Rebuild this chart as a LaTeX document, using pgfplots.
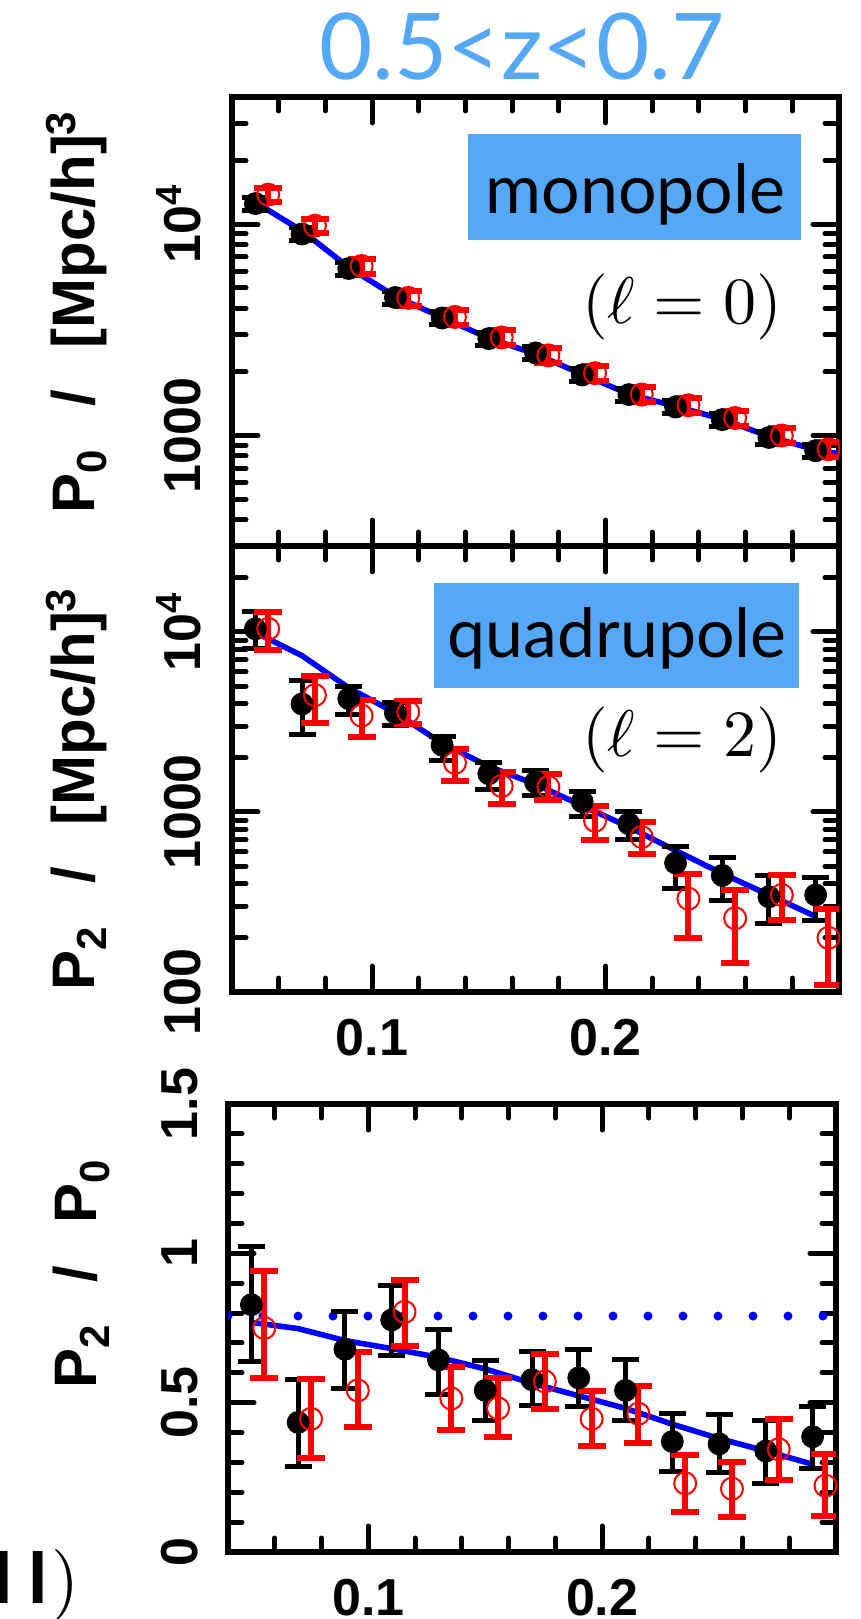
\documentclass[border=0pt]{standalone}
\usepackage{fontspec}
\usepackage{graphicx}
\usepackage{pgfplots}
\usepackage{pgfplotstable}
\pgfplotsset{compat=1.18}

\newfontfamily\axfont{Liberation Sans}
\newfontfamily\gill{Lato}
\definecolor{skyb}{RGB}{85,168,245}

\newcommand{\tickfnt}{\axfont\bfseries\fontsize{26}{26}\selectfont}
\newcommand{\labfnt}{\axfont\bfseries\fontsize{30}{30}\selectfont}

% monopole
\pgfplotstableread{
x y
0.05 12520
0.07 8990
0.09 6170
0.11 4500
0.13 3600
0.15 2875
0.17 2460
0.19 1933
0.21 1562
0.23 1364
0.25 1189
0.27 979
0.29 847
}\monoblk
\pgfplotstableread{
x y
0.0555 13800
0.0755 9840
0.0955 6340
0.1155 4480
0.1355 3640
0.1555 2910
0.1755 2395
0.1955 1972
0.2155 1563
0.2355 1390
0.2555 1211
0.2755 1000
0.2955 861
}\monored
\pgfplotstableread{
x y
0.05 12700
0.07 9300
0.09 6250
0.11 4550
0.13 3620
0.15 2890
0.17 2430
0.19 1950
0.21 1570
0.23 1375
0.25 1195
0.27 990
0.29 855
0.30 820
}\monomod

% quadrupole
\pgfplotstableread{
x y ep em
0.05 10400 2660 2330
0.07 3980 1370 1280
0.09 4260 740 790
0.11 3550 530 520
0.13 2350 290 430
0.15 1630 245 300
0.17 1460 250 220
0.19 1140 160 196
0.21 860 150 158
0.23 521 119 143
0.25 444 114 121
0.27 338 106 98
0.29 346 89 95
}\quadblk
\pgfplotstableread{
x y ep em
0.0555 10400 2500 2510
0.0755 4460 1230 1330
0.0955 3430 730 820
0.1155 3590 520 520
0.1355 1875 375 383
0.1555 1393 277 285
0.1755 1376 242 218
0.1955 894 190 192
0.2155 726 156 142
0.2355 330 125 130
0.2555 257 114 112
0.2755 346 98 95
0.2955 200 88 90
}\quadred
\pgfplotstableread{
x y
0.05 9930
0.07 7380
0.09 4890
0.11 3550
0.13 2410
0.15 1790
0.17 1425
0.19 1084
0.21 825
0.23 611
0.25 455
0.27 346
0.29 263
}\quadmod

% ratio P2/P0
\pgfplotstableread{
x y ep em
0.05 0.828 0.195 0.191
0.07 0.434 0.143 0.146
0.09 0.679 0.125 0.130
0.11 0.777 0.115 0.120
0.13 0.643 0.102 0.114
0.15 0.541 0.099 0.101
0.17 0.577 0.096 0.087
0.19 0.583 0.096 0.095
0.21 0.541 0.102 0.101
0.23 0.370 0.093 0.100
0.25 0.362 0.098 0.096
0.27 0.338 0.102 0.108
0.29 0.386 0.101 0.108
}\ratblk
\pgfplotstableread{
x y ep em
0.0555 0.750 0.192 0.167
0.0755 0.446 0.134 0.132
0.0955 0.541 0.129 0.123
0.1155 0.804 0.108 0.113
0.1355 0.514 0.105 0.107
0.1555 0.481 0.102 0.095
0.1755 0.571 0.093 0.093
0.1955 0.446 0.092 0.092
0.2155 0.463 0.094 0.098
0.2355 0.230 0.096 0.095
0.2555 0.212 0.090 0.095
0.2755 0.344 0.102 0.102
0.2955 0.222 0.106 0.103
}\ratred
\pgfplotstableread{
x y
0.05 0.769
0.07 0.748
0.09 0.708
0.11 0.681
0.13 0.652
0.15 0.613
0.17 0.565
0.19 0.523
0.21 0.481
0.23 0.428
0.25 0.380
0.27 0.338
0.29 0.294
}\ratmod

\pgfplotsset{
  panel/.style={
    scale only axis, anchor=north west,
    xmin=0.04, xmax=0.30,
    axis line style={line width=3pt},
    tick style={black, line width=2.5pt, line cap=round},
    major tick length=13pt, minor tick length=7pt,
    tick align=inside, tick pos=both,
    xticklabel pos=lower, yticklabel pos=left,
    xtick={0.1,0.2},
    minor xtick={0.06,0.08,0.12,0.14,0.16,0.18,0.22,0.24,0.26,0.28},
    tick label style={font=\tickfnt},
    xticklabel style={anchor=north, inner sep=0pt},
    yticklabel style={rotate=90, anchor=base, inner sep=0pt},
    yticklabel shift=16pt,
  },
  model/.style={blue, line width=2.8pt, no marks},
  blk/.style={black, only marks, mark=*, mark size=5.5pt,
    error bars/y dir=both,
    error bars/error bar style={line width=2.5pt},
    error bars/error mark options={rotate=90, mark size=6.75pt, line width=2.5pt}},
  rd/.style={red, only marks, mark=o, mark size=5.5pt,
    mark options={line width=1pt},
    error bars/y dir=both,
    error bars/error bar style={line width=3pt},
    error bars/error mark options={rotate=90, mark size=7pt, line width=3pt}},
}

\begin{document}
\begin{tikzpicture}
\useasboundingbox (0,0) rectangle (430.5pt,-809.5pt);

% monopole
\begin{axis}[panel, at={(116pt,-48.5pt)}, width=303.5pt, height=224.5pt,
  ymode=log, ymin=300, ymax=40000,
  ytick={1000,10000}, yticklabels={1000,10\textsuperscript{4}},
  minor ytick={300,400,500,600,700,800,900,2000,3000,4000,5000,6000,7000,8000,9000,20000,30000,40000},
  xticklabels={}]
\addplot[model] table[x=x,y=y] {\monomod};
\addplot[blk, error bars/y fixed relative=0.07] table[x=x,y=y] {\monoblk};
\addplot[rd, error bars/y fixed relative=0.08] table[x=x,y=y] {\monored};
\end{axis}

% quadrupole
\begin{axis}[panel, at={(116pt,-273pt)}, width=303.5pt, height=223pt,
  ymode=log, ymin=100, ymax=30000,
  ytick={100,1000,10000}, yticklabels={100,1000,10\textsuperscript{4}},
  minor ytick={200,300,400,500,600,700,800,900,2000,3000,4000,5000,6000,7000,8000,9000,20000,30000},
  xticklabels={0.1,0.2}, xticklabel shift=13.5pt]
\addplot[model] table[x=x,y=y] {\quadmod};
\addplot[blk, error bars/y explicit] table[x=x,y=y,y error plus=ep,y error minus=em] {\quadblk};
\addplot[rd, error bars/y explicit] table[x=x,y=y,y error plus=ep,y error minus=em] {\quadred};
\end{axis}

% ratio
\begin{axis}[panel, at={(114pt,-552pt)}, width=304pt, height=224pt,
  ymin=0, ymax=1.5,
  ytick={0,0.5,1,1.5}, yticklabels={0,0.5,1,1.5},
  minor ytick={0.1,0.2,0.3,0.4,0.6,0.7,0.8,0.9,1.1,1.2,1.3,1.4},
  xticklabels={0.1,0.2}, xticklabel shift=13.5pt, yticklabel shift=15.5pt]
\addplot[blue, line width=4.5pt, dash pattern=on 0pt off 17.5pt, line cap=round] coordinates {(0.04,0.79) (0.30,0.79)};
\addplot[model] table[x=x,y=y] {\ratmod};
\addplot[blk, error bars/y explicit] table[x=x,y=y,y error plus=ep,y error minus=em] {\ratblk};
\addplot[rd, error bars/y explicit] table[x=x,y=y,y error plus=ep,y error minus=em] {\ratred};
\end{axis}

% title and labels
\node[font=\gill\fontsize{46}{50}\selectfont, text=skyb] at (261pt,-23.5pt) {0.5<z<0.7};

\fill[skyb] (234pt,-67pt) rectangle (400.5pt,-120pt);
\node[anchor=base, font=\gill\fontsize{34}{40}\selectfont, inner sep=0pt] at (317.75pt,-106.8pt) {monopole};
\fill[skyb] (217pt,-291.25pt) rectangle (399.5pt,-344pt);
\node[anchor=base, font=\gill\fontsize{34}{40}\selectfont, inner sep=0pt] at (308.5pt,-328.5pt) {quadrupole};

\node[anchor=base, inner sep=0pt] at (341pt,-161.75pt) {\scalebox{3.3}{$(\ell=0)$}};
\node[anchor=base, inner sep=0pt] at (341pt,-378pt) {\scalebox{3.3}{$(\ell=2)$}};

\node[rotate=90, anchor=base, font=\labfnt, inner sep=0pt] at (47pt,-156pt)
  {P\textsubscript{0}\hspace{0.7em}/\hspace{0.7em}[Mpc/h]\textsuperscript{3}};
\node[rotate=90, anchor=base, font=\labfnt, inner sep=0pt] at (47pt,-394.5pt)
  {P\textsubscript{2}\hspace{0.7em}/\hspace{0.7em}[Mpc/h]\textsuperscript{3}};
\node[rotate=90, anchor=base, font=\labfnt, inner sep=0pt] at (48.5pt,-637pt)
  {P\textsubscript{2}\hspace{0.7em}/\hspace{0.7em}P\textsubscript{0}};

% cut-off label at the lower left edge
\node[anchor=base, font=\gill\bfseries\fontsize{36}{40}\selectfont, inner sep=0pt] at (1.5pt,-801.5pt) {I};
\node[anchor=base, font=\gill\bfseries\fontsize{36}{40}\selectfont, inner sep=0pt] at (19pt,-801.5pt) {I};
\node[anchor=base, inner sep=0pt] at (33pt,-801.5pt) {\scalebox{3.6}{)}};
\end{tikzpicture}
\end{document}
